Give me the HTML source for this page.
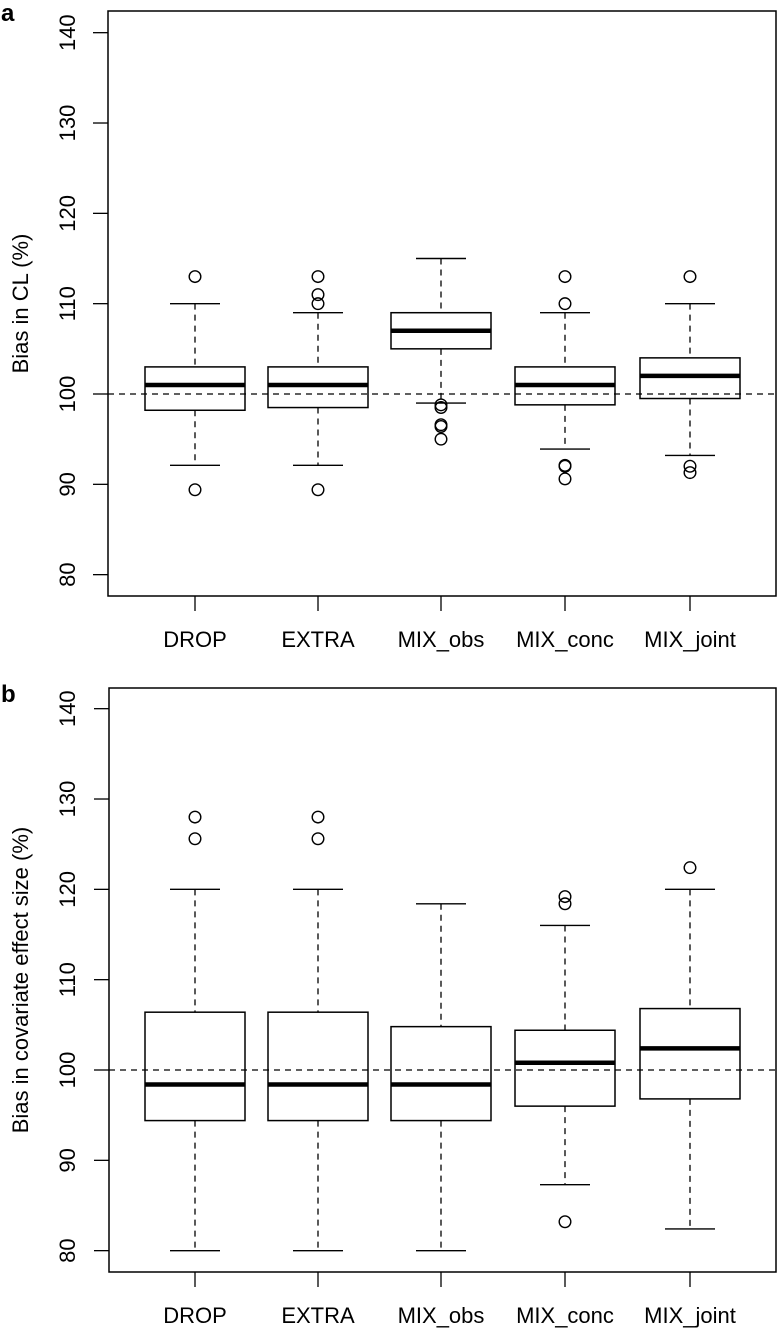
<!DOCTYPE html>
<html><head><meta charset="utf-8"><style>
body{margin:0;background:#fff}
svg text{font-family:"Liberation Sans",Arial,sans-serif;fill:#000}
</style></head><body>
<svg id="chart" width="780" height="1328" xmlns="http://www.w3.org/2000/svg"></svg>
<script>
const categories=["DROP","EXTRA","MIX_obs","MIX_conc","MIX_joint"];
const yTicks=[80,90,100,110,120,130,140];
// panel a
const aLowW=[92.1,92.1,99,93.9,93.2];
const aQ1=[98.2,98.5,105,98.8,99.5];
const aMed=[101,101,107,101,102];
const aQ3=[103,103,109,103,104];
const aHighW=[110,109,115,109,110];
const aOut=[[113,89.4],[113,111,110,89.4],[98.8,98.5,96.6,96.4,95],[113,110,92.1,92,90.6],[113,92,91.3]];
// panel b
const bLowW=[80,80,80,87.3,82.4];
const bQ1=[94.4,94.4,94.4,96,96.8];
const bMed=[98.4,98.4,98.4,100.8,102.4];
const bQ3=[106.4,106.4,104.8,104.4,106.8];
const bHighW=[120,120,118.4,116,120];
const bOut=[[128,125.6],[128,125.6],[],[119.2,118.4,83.2],[122.4]];

const svg=document.getElementById('chart');
const NS="http://www.w3.org/2000/svg";
function mk(tag,attrs,name){const e=document.createElementNS(NS,tag);for(const k in attrs)e.setAttribute(k,attrs[k]);


svg.appendChild(e);return e;}
const xs=[195,318,441,565,690];
function panel(p){
  const y=v=>p.y100-(v-100)*p.per10/10;
  mk('rect',{x:p.left,y:p.top,width:776-p.left,height:p.bottom-p.top,fill:'none',stroke:'#000','stroke-width':1.5},p.id+'-plot-frame');
  mk('line',{x1:p.left,x2:776,y1:y(100),y2:y(100),stroke:'#000','stroke-dasharray':'6,5','stroke-width':1.2},p.id+'-reference-line-100');
  yTicks.forEach(t=>{
    mk('line',{x1:p.left-15,x2:p.left,y1:y(t),y2:y(t),stroke:'#000','stroke-width':1.3},p.id+'-y-tick-'+t);
    const tx=mk('text',{x:0,y:0,'font-size':22,'text-anchor':'middle',transform:`translate(75,${y(t)}) rotate(-90)`},p.id+'-y-tick-label-'+t);tx.textContent=t;
  });
  const yt=mk('text',{x:0,y:0,'font-size':22,'text-anchor':'middle',transform:`translate(28,${(p.top+p.bottom)/2}) rotate(-90)`},p.id+'-y-axis-title');yt.textContent=p.title;
  const pl=mk('text',{x:1,y:p.lab,'font-size':24,'font-weight':'bold'},p.id+'-panel-label');pl.textContent=p.id;
  categories.forEach((c,i)=>{
    const x=xs[i],hw=50,cw=25;
    mk('line',{x1:x,x2:x,y1:p.bottom,y2:p.bottom+15,stroke:'#000','stroke-width':1.3},p.id+'-x-tick-'+c);
    const lt=mk('text',{x:x,y:p.bottom+51,'font-size':22,'text-anchor':'middle'},p.id+'-x-label-'+c);lt.textContent=c;
    mk('line',{x1:x,x2:x,y1:y(p.hw[i]),y2:y(p.q3[i]),stroke:'#000','stroke-dasharray':'6,5','stroke-width':1.3},p.id+'-upper-whisker-'+c);
    mk('line',{x1:x,x2:x,y1:y(p.q1[i]),y2:y(p.lw[i]),stroke:'#000','stroke-dasharray':'6,5','stroke-width':1.3},p.id+'-lower-whisker-'+c);
    mk('line',{x1:x-cw,x2:x+cw,y1:y(p.hw[i]),y2:y(p.hw[i]),stroke:'#000','stroke-width':1.4},p.id+'-upper-cap-'+c);
    mk('line',{x1:x-cw,x2:x+cw,y1:y(p.lw[i]),y2:y(p.lw[i]),stroke:'#000','stroke-width':1.4},p.id+'-lower-cap-'+c);
    mk('rect',{x:x-hw,y:y(p.q3[i]),width:2*hw,height:y(p.q1[i])-y(p.q3[i]),fill:'none',stroke:'#000','stroke-width':1.5},p.id+'-box-'+c);
    mk('line',{x1:x-hw,x2:x+hw,y1:y(p.med[i]),y2:y(p.med[i]),stroke:'#000','stroke-width':4.5},p.id+'-median-'+c);
    p.out[i].forEach((o,j)=>mk('circle',{cx:x,cy:y(o),r:5.8,fill:'none',stroke:'#000','stroke-width':1.4},p.id+'-outlier-'+c+'-'+j));
  });
}
panel({id:'a',left:108,top:11,bottom:596,y100:394,per10:90.33,lab:21,title:'Bias in CL (%)',lw:aLowW,q1:aQ1,med:aMed,q3:aQ3,hw:aHighW,out:aOut});
panel({id:'b',left:109,top:688,bottom:1272,y100:1070,per10:90.33,lab:702,title:'Bias in covariate effect size (%)',lw:bLowW,q1:bQ1,med:bMed,q3:bQ3,hw:bHighW,out:bOut});
</script>
</body></html>
